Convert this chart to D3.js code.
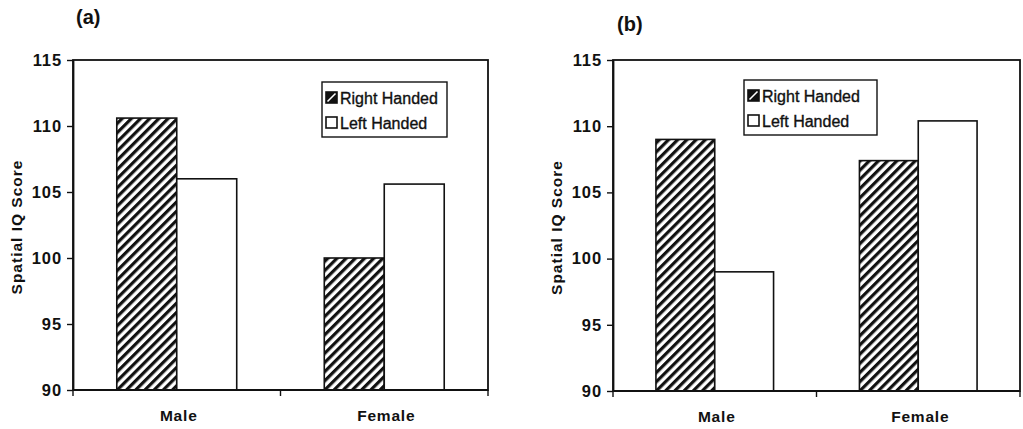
<!DOCTYPE html>
<html>
<head>
<meta charset="utf-8">
<script src="https://cdn.jsdelivr.net/npm/d3@7"></script>
<style>
  html, body { margin: 0; padding: 0; background: #fff; }
  svg { display: block; }
  text { font-family: "Liberation Sans", Arial, sans-serif; fill: #111; }
</style>
</head>
<body>
<svg id="chart" width="1023" height="429"></svg>
<script>
// Categories and series
const categories = ["Male", "Female"];
const seriesNames = ["Right Handed", "Left Handed"];
const yTicks = [90, 95, 100, 105, 110, 115];

// Panel (a) mean spatial IQ scores
const panelARight = [110.6, 100.0];
const panelALeft = [106.0, 105.6];
// Panel (b) mean spatial IQ scores
const panelBRight = [109.0, 107.4];
const panelBLeft = [99.0, 110.4];

const panels = [
  { tag: "(a)", right: panelARight, left: panelALeft,
    box: { x0: 73, x1: 488, y0: 60, y1: 390 },
    tagPos: [76, 24], yLabelX: 22, legend: { x: 322, y: 82, w: 125, h: 55 } },
  { tag: "(b)", right: panelBRight, left: panelBLeft,
    box: { x0: 613, x1: 1020, y0: 60, y1: 391 },
    tagPos: [617, 31], yLabelX: 562, legend: { x: 744, y: 80, w: 133, h: 55 } }
];

const svg = d3.select("#chart");
const ink = "#111";

// Diagonal hatch used for the right-handed bars
const defs = svg.append("defs");
defs.append("pattern")
  .attr("id", "hatch")
  .attr("patternUnits", "userSpaceOnUse")
  .attr("width", 6.5).attr("height", 6.5)
  .attr("patternTransform", "rotate(45)")
  .call(p => {
    p.append("rect").attr("width", 6.5).attr("height", 6.5).attr("fill", "#fff");
    p.append("rect").attr("width", 3.2).attr("height", 6.5).attr("fill", ink);
  });

panels.forEach(pn => {
  const g = svg.append("g");
  const { x0, x1, y0, y1 } = pn.box;

  const x = d3.scaleBand().domain(categories).range([x0, x1]).padding(0);
  const xs = d3.scaleBand().domain(seriesNames).range([0, x.bandwidth()])
    .paddingInner(0).paddingOuter(0.73);
  const y = d3.scaleLinear().domain([90, 115]).range([y1, y0]);

  // plot frame
  g.append("rect")
    .attr("x", x0).attr("y", y0)
    .attr("width", x1 - x0).attr("height", y1 - y0)
    .attr("fill", "#fff").attr("stroke", ink).attr("stroke-width", 1.8);

  // bars
  const rows = categories.map((c, i) => ({ c, vals: [
    { s: seriesNames[0], v: pn.right[i] },
    { s: seriesNames[1], v: pn.left[i] }
  ]}));
  g.selectAll("g.cat").data(rows).join("g")
    .attr("class", "cat")
    .attr("transform", d => `translate(${x(d.c)},0)`)
    .selectAll("rect").data(d => d.vals).join("rect")
      .attr("x", d => xs(d.s))
      .attr("width", xs.bandwidth())
      .attr("y", d => y(d.v))
      .attr("height", d => y(90) - y(d.v))
      .attr("fill", d => d.s === seriesNames[0] ? "url(#hatch)" : "#fff")
      .attr("stroke", ink).attr("stroke-width", 1.6);

  // y axis
  const yAxis = g.append("g")
    .attr("transform", `translate(${x0},0)`)
    .call(d3.axisLeft(y).tickValues(yTicks).tickSize(6).tickSizeOuter(0).tickPadding(5));
  yAxis.select(".domain").attr("stroke", ink).attr("stroke-width", 1.8);
  yAxis.selectAll(".tick line").attr("stroke", ink).attr("stroke-width", 1.4);
  yAxis.selectAll(".tick text")
    .attr("font-size", 16.5).attr("font-weight", "bold")
    .attr("letter-spacing", 0.9).attr("fill", ink)
    .style("font-family", "'Liberation Sans', Arial, sans-serif");

  // x axis: ticks at band edges, labels centred in bands
  const edges = [x0, x0 + x.step(), x1];
  g.selectAll("line.xtick").data(edges).join("line")
    .attr("class", "xtick")
    .attr("x1", d => d).attr("x2", d => d)
    .attr("y1", y1).attr("y2", y1 + 6)
    .attr("stroke", ink).attr("stroke-width", 1.4);
  g.append("line")
    .attr("x1", x0).attr("x2", x1).attr("y1", y1).attr("y2", y1)
    .attr("stroke", ink).attr("stroke-width", 1.8);
  g.selectAll("text.xlab").data(categories).join("text")
    .attr("class", "xlab")
    .attr("x", d => x(d) + x.bandwidth() / 2 + 2)
    .attr("y", y1 + 31)
    .attr("text-anchor", "middle")
    .attr("font-size", 15.5).attr("font-weight", "bold")
    .attr("letter-spacing", 0.8)
    .text(d => d);

  // y axis title
  g.append("text")
    .attr("transform", `translate(${pn.yLabelX},${(y0 + y1) / 2 + 2}) rotate(-90)`)
    .attr("text-anchor", "middle")
    .attr("font-size", 15.5).attr("font-weight", "bold")
    .attr("letter-spacing", 1.0)
    .text("Spatial IQ Score");

  // panel tag
  g.append("text")
    .attr("x", pn.tagPos[0]).attr("y", pn.tagPos[1])
    .attr("font-size", 20).attr("font-weight", "bold")
    .text(pn.tag);

  // legend
  const L = pn.legend;
  const lg = g.append("g").attr("transform", `translate(${L.x},${L.y})`);
  lg.append("rect")
    .attr("width", L.w).attr("height", L.h)
    .attr("fill", "#fff").attr("stroke", ink).attr("stroke-width", 1.4);
  const item = lg.selectAll("g.item").data(seriesNames).join("g")
    .attr("class", "item")
    .attr("transform", (d, i) => `translate(4,${10 + i * 25})`);
  item.append("rect")
    .attr("width", 11).attr("height", 11)
    .attr("fill", (d, i) => i === 0 ? ink : "#fff")
    .attr("stroke", ink).attr("stroke-width", 1.6);
  item.filter((d, i) => i === 0).append("line")
    .attr("x1", 1.5).attr("y1", 9.5).attr("x2", 9.5).attr("y2", 1.5)
    .attr("stroke", "#fff").attr("stroke-width", 1.6);
  item.append("text")
    .attr("x", 14).attr("y", 11.5)
    .attr("font-size", 16)
    .attr("stroke", ink).attr("stroke-width", 0.35)
    .text(d => d);
});
</script>
</body>
</html>
